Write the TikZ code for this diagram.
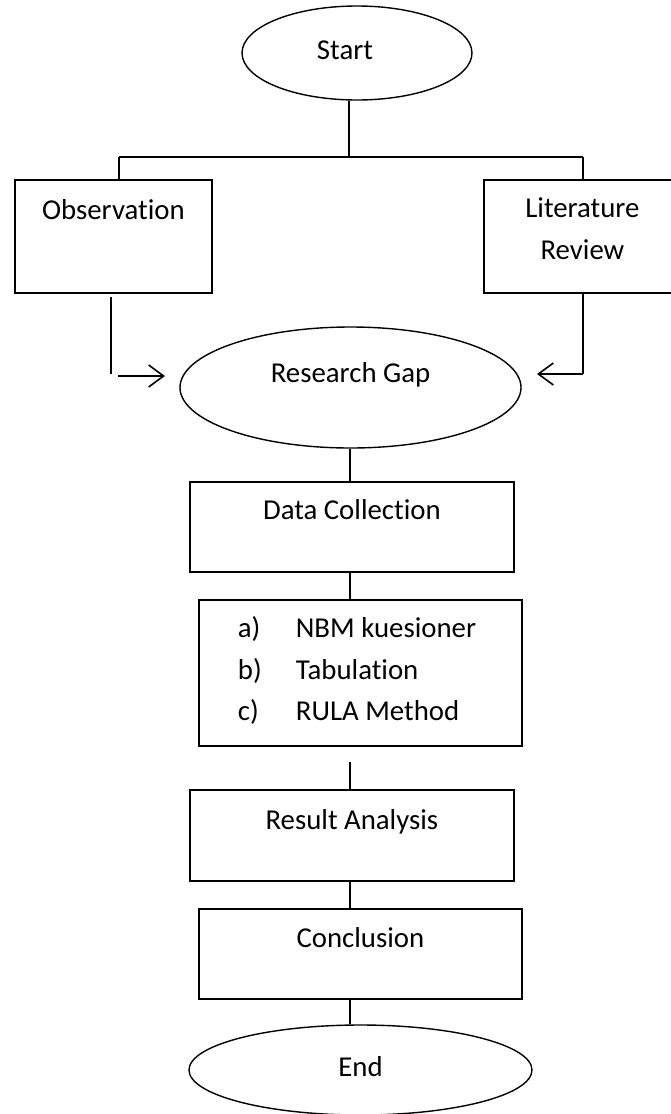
\documentclass[tikz,border=0pt]{standalone}
\usepackage{fontspec}
\setmainfont{Carlito}[Ligatures=NoCommon]
\usetikzlibrary{shapes.geometric,arrows.meta}
\newcommand\boxtext[4]{\parbox[c][#2pt][t]{#1pt}{\centering\rule{0pt}{#3pt}#4}}
\begin{document}
\begin{tikzpicture}[x=1pt,y=-1pt,
  font=\fontsize{28.8}{42}\selectfont,
  stepbox/.style={draw, rectangle, line width=1.8pt, inner sep=0pt, anchor=north west},
  ell/.style={draw, ellipse, line width=1.4pt, inner sep=0pt},
  conn/.style={line width=1.2pt},
  arr/.style={line width=1.6pt, -{Straight Barb[length=15pt,width=22pt,line width=1.6pt]}}]
\useasboundingbox (0,0) rectangle (670,1114);

% nodes
\node[ell, minimum width=230pt, minimum height=94pt, text height=18pt, text depth=6pt] (start) at (357,53) {Start\rule{24pt}{0pt}};
\node[stepbox] (obs) at (14,179) {\boxtext{197}{113}{40}{Observation}};
\node[stepbox] (lit) at (483,179) {\boxtext{197}{113}{38}{Literature\\Review}};
\node[ell, minimum width=341pt, minimum height=121pt, text height=6pt, text depth=17pt] (gap) at (350.5,387.5) {Research Gap};
\node[stepbox] (data) at (189,481) {\boxtext{324}{90}{38}{Data Collection}};
\node[stepbox] (list) at (198,599) {\parbox[c][146pt][t]{323pt}{\fontsize{28.8}{41.5}\selectfont\raggedright
  \rule{0pt}{38pt}\hspace*{39pt}\makebox[58pt][l]{a)}NBM kuesioner\\
  \hspace*{39pt}\makebox[58pt][l]{b)}Tabulation\\
  \hspace*{39pt}\makebox[58pt][l]{c)}RULA Method}};
\node[stepbox] (res) at (189,789) {\boxtext{324}{91}{40}{Result Analysis}};
\node[stepbox] (conc) at (198,908) {\boxtext{323}{90}{39}{Conclusion}};
\node[ell, minimum width=343pt, minimum height=90pt, text height=18pt, text depth=6pt] (end) at (360.5,1070) {End};

% coordinates
\coordinate (j0) at (349,157);
\coordinate (jl) at (119,157);
\coordinate (jr) at (583,157);
\coordinate (la) at (111,297);
\coordinate (lb) at (111,374);
\coordinate (lc) at (118,376);
\coordinate (ld) at (165,376);
\coordinate (rb) at (583,374);
\coordinate (rd) at (537,374);
\coordinate (m1) at (350,762);

% connectors
\draw[conn] (start.south -| j0) -- (j0);
\draw[conn] (jl) -- (jr);
\draw[conn] (jl) -- (jl |- obs.north);
\draw[conn] (jr) -- (jr |- lit.north);
\draw[conn] (la) -- (lb);
\draw[arr] (lc) -- (ld);
\draw[conn] (lit.south -| rb) -- (rb);
\draw[arr] (rb) -- (rd);
\draw[conn] (gap.south -| m1) -- (m1 |- data.north);
\draw[conn] (data.south -| m1) -- (m1 |- list.north);
\draw[conn] (m1) -- (m1 |- res.north);
\draw[conn] (res.south -| m1) -- (m1 |- conc.north);
\draw[conn] (conc.south -| m1) -- (m1 |- end.north);
\end{tikzpicture}
\end{document}
